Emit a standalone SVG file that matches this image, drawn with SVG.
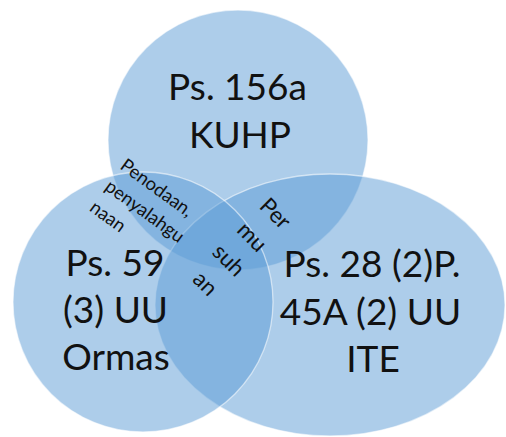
<svg xmlns="http://www.w3.org/2000/svg" width="506" height="437" viewBox="0 0 506 437">
  <style>
    .set { fill: #5B9BD5; fill-opacity: 0.5; stroke: #ffffff; stroke-opacity: 0.55; stroke-width: 1.3; }
    .big { font-family: Lato, "Open Sans", sans-serif; font-size: 37px; fill: #111111; text-anchor: middle; }
    .small { font-family: Lato, "Open Sans", sans-serif; fill: #111111; }
  </style>
  <rect width="506" height="437" fill="#ffffff"/>

  <!-- upper set: KUHP -->
  <g id="node-kuhp">
    <circle class="set" cx="238" cy="140" r="130"/>
    <text class="big" x="237.5" y="100">Ps. 156a</text>
    <text class="big" x="240" y="148">KUHP</text>
  </g>

  <!-- right set: UU ITE -->
  <g id="node-ite">
    <ellipse class="set" cx="330" cy="305" rx="175" ry="131"/>
    <text class="big" x="372" y="277">Ps. 28 (2)P.</text>
    <text class="big" x="370.5" y="324.5">45A (2) UU</text>
    <text class="big" x="373" y="372">ITE</text>
  </g>

  <!-- left set: UU Ormas -->
  <g id="node-ormas">
    <circle class="set" cx="143" cy="302" r="130"/>
    <text class="big" x="115" y="276">Ps. 59</text>
    <text class="big" x="115.5" y="323">(3) UU</text>
    <text class="big" x="116" y="370">Ormas</text>
  </g>

  <!-- overlap labels -->
  <g id="label-penodaan" class="small" font-size="18.5" transform="translate(119 168) rotate(36)">
    <text x="0" y="0">Penodaan,</text>
    <text x="0" y="26">penyalahgu</text>
    <text x="0" y="52">naan</text>
  </g>
  <g id="label-permusuhan" class="small" font-size="22.5" text-anchor="middle" transform="translate(270 219) rotate(45)">
    <text x="0" y="0">Per</text>
    <text x="0" y="33">mu</text>
    <text x="0" y="66">suh</text>
    <text x="0" y="99">an</text>
  </g>
</svg>
